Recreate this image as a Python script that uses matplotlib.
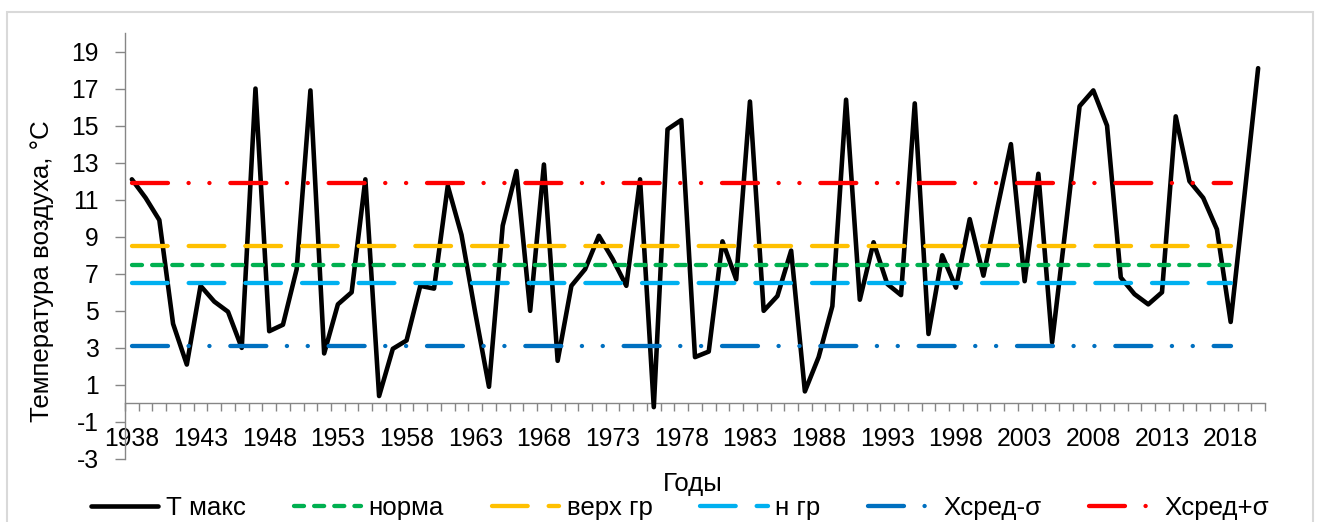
import numpy as np
import matplotlib
matplotlib.use('Agg')
import matplotlib.pyplot as plt
from matplotlib.patches import Rectangle

plt.rcParams['font.family'] = ['Liberation Sans', 'DejaVu Sans']
plt.rcParams['lines.scale_dashes'] = False
plt.rcParams['axes.unicode_minus'] = False

# Годы и максимальная температура
years = list(range(1938, 2021))
t_max = [12.1, 11.1, 9.9, 4.3, 2.1, 6.35, 5.5, 4.95, 3.0, 17.0,
         3.9, 4.25, 7.25, 16.9, 2.7, 5.35, 6.0, 12.1, 0.4, 2.95,
         3.4, 6.35, 6.2, 11.75, 9.1, 4.9, 0.9, 9.6, 12.55, 5.0,
         12.9, 2.3, 6.35, 7.25, 9.05, 7.8, 6.35, 12.1, -0.2, 14.8,
         15.3, 2.5, 2.8, 8.75, 6.7, 16.3, 5.0, 5.8, 8.25, 0.65,
         2.5, 5.25, 16.4, 5.6, 8.7, 6.45, 5.85, 16.2, 3.75, 8.0,
         6.25, 9.95, 6.9, 10.5, 14.0, 6.6, 12.4, 3.3, 9.6, 16.05,
         16.9, 15.0, 6.8, 5.9, 5.35, 6.0, 15.5, 12.0, 11.1, 9.4,
         4.4, 11.2, 18.1]

# Уровни (линии до 2018 года)
ref_years = list(range(1938, 2019))
norma = 7.5
verh_gr = 8.5
n_gr = 6.5
x_minus = 3.1
x_plus = 11.9

fs = 17.8
fs_lab = 18.6
lw = 3.1

fig = plt.figure(figsize=(13.2, 5.22), dpi=100)
ax = fig.add_axes([125 / 1320, 63 / 522, 1140 / 1320, 426 / 522])

ax.plot(years, t_max, color='black', lw=lw + 0.2, label='Т макс',
        solid_joinstyle='round', solid_capstyle='round', zorder=3)
ax.plot(ref_years, [norma] * len(ref_years), color='#00b050', lw=lw,
        dashes=(7.2, 7.3), dash_capstyle='round', label='норма', zorder=4)
ax.plot(ref_years, [verh_gr] * len(ref_years), color='#ffc000', lw=lw,
        dashes=(25.7, 15.1), dash_capstyle='round', label='верх гр', zorder=4)
ax.plot(ref_years, [n_gr] * len(ref_years), color='#00b0f0', lw=lw,
        dashes=(25.7, 15.1), dash_capstyle='round', label='н гр', zorder=4)
ax.plot(ref_years, [x_minus] * len(ref_years), color='#0070c0', lw=lw,
        dashes=(25.9, 14.8, 0.1, 14.9, 0.1, 15.0), dash_capstyle='round',
        label='Xсред-σ', zorder=4)
ax.plot(ref_years, [x_plus] * len(ref_years), color='#ff0000', lw=lw,
        dashes=(25.9, 14.8, 0.1, 14.9, 0.1, 15.0), dash_capstyle='round',
        label='Xсред+σ', zorder=4)

ax.set_xlim(1937.5, 2020.5)
ax.set_ylim(-3, 20)
ax.set_yticks(np.arange(-3, 20, 2))
ax.set_xticks(range(1938, 2021, 5))
ax.set_xticks(np.arange(1937.5, 2021, 1), minor=True)

for s in ['top', 'right']:
    ax.spines[s].set_visible(False)
ax.spines['bottom'].set_position(('data', 0))
for s in ['left', 'bottom']:
    ax.spines[s].set_color('#868686')
    ax.spines[s].set_linewidth(1)

ax.tick_params(axis='y', length=7, width=1, color='#868686', pad=12, labelsize=fs)
ax.tick_params(axis='x', which='major', length=0, pad=17, labelsize=fs)
ax.tick_params(axis='x', which='minor', length=6, width=1, color='#868686')

ax.set_ylabel('Температура воздуха, °С', fontsize=fs_lab, va='center')
ax.yaxis.set_label_coords(-0.0728, 0.441)
ax.set_xlabel('Годы', fontsize=fs_lab, va='center')
ax.xaxis.set_label_coords(0.498, -0.058)

ax.legend(loc='center', bbox_to_anchor=(680 / 1320, 14 / 522),
          bbox_transform=fig.transFigure, ncol=6, frameon=False, fontsize=fs_lab,
          handlelength=2.6, handletextpad=0.3, columnspacing=1.85)

# рамка диаграммы
fig.patches.append(Rectangle((7 / 1320, -0.05), 1306 / 1320, 0.05 + 510 / 522,
                             transform=fig.transFigure, fill=False,
                             edgecolor='#d9d9d9', lw=1.5))

fig.savefig('out.png', dpi=100)
